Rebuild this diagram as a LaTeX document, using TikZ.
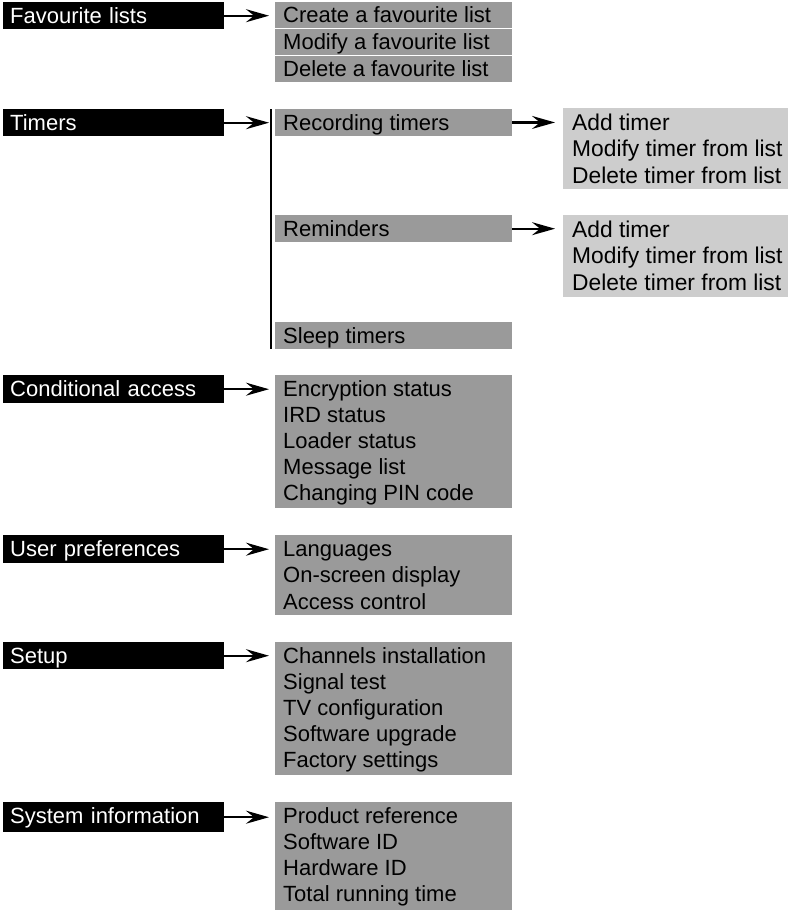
\documentclass[tikz,border=0pt]{standalone}
\usepackage{fontspec}
\setmainfont{Liberation Sans}
\usetikzlibrary{arrows.meta,calc}
\definecolor{midgray}{RGB}{154,154,154}
\definecolor{palegray}{RGB}{205,205,205}
\begin{document}
\begin{tikzpicture}[x=1pt,y=-1pt,
  lbl/.style={font=\fontsize{22}{26}\selectfont, inner sep=0pt, anchor=base west},
  plbl/.style={lbl, font=\fontsize{22.8}{26}\selectfont},
  head/.style={fill=black, text=white, anchor=north west, inner xsep=7pt, inner ysep=0pt,
    text width=207pt, align=left, text height=21pt, text depth=6pt,
    font=\fontsize{22}{26}\selectfont},
  gbox/.style={fill=midgray, anchor=north west, inner sep=0pt, minimum width=237pt},
  pbox/.style={fill=palegray, anchor=north west, inner sep=0pt, minimum width=225pt},
  arr/.style={-{Stealth[length=23pt,width=13pt,inset=8pt]}, line width=2.2pt},
  vline/.style={line width=2.5pt}]
\useasboundingbox (0,0) rectangle (799,910);

% ---------- Favourite lists
\node[head] (fav) at (3,2) {Favourite lists};
\node[gbox, minimum height=25.5pt] (favg1) at (275,2) {};
\node[gbox, minimum height=26pt] (favg2) at (275,28.5) {};
\node[gbox, minimum height=26.5pt] (favg3) at (275,55.5) {};
\node[lbl] (fav1) at (283,23) {Create a favourite list};
\node[lbl] (fav2) at (283,49.5) {Modify a favourite list};
\node[lbl] (fav3) at (283,76) {Delete a favourite list};
\draw[arr] (fav.east) -- ($(fav.east -| favg1.west)+(-6,0)$);

% ---------- Timers
\node[head] (tim) at (3,109) {Timers};
\coordinate (vtop) at (271,109);
\coordinate (vbot) at (271,349);
\draw[vline] (vtop) -- (vbot);
\draw[arr] (tim.east) -- ($(tim.east -| vtop)+(-2,0)$);
\node[gbox, minimum height=26.5pt] (rec) at (275,109) {};
\node[lbl] (rect) at (283,130) {Recording timers};
\node[gbox, minimum height=27pt] (rem) at (275,215) {};
\node[lbl] (remt) at (283,236) {Reminders};
\node[gbox, minimum height=26.5pt] (slp) at (275,322) {};
\node[lbl] (slpt) at (283,343) {Sleep timers};

\node[pbox, minimum height=81pt] (lb1) at (563,108) {};
\foreach \t [count=\i from 0] in {Add timer, Modify timer from list, Delete timer from list}
  \node[plbl] (lbo\i) at (572,{130+26.5*\i}) {\t};
\node[pbox, minimum height=82pt] (lb2) at (563,215) {};
\foreach \t [count=\i from 0] in {Add timer, Modify timer from list, Delete timer from list}
  \node[plbl] (lbt\i) at (572,{237+26.5*\i}) {\t};
\draw[arr] (rec.east) -- ($(rec.east -| lb1.west)+(-8,0)$);
\draw[arr] (rem.east) -- ($(rem.east -| lb2.west)+(-8,0)$);

% ---------- Conditional access
\node[head, text depth=7pt] (ca) at (3,375) {Conditional access};
\node[gbox, minimum height=133pt] (cag) at (275,375) {};
\foreach \t [count=\i from 0] in {Encryption status, IRD status, Loader status, Message list, Changing PIN code}
  \node[lbl] (ca\i) at (283,{396+26*\i}) {\t};
\draw[arr] (ca.east) -- ($(ca.east -| cag.west)+(-6,0)$);

% ---------- User preferences
\node[head, text depth=7pt] (up) at (3,535) {User preferences};
\node[gbox, minimum height=80pt] (upg) at (275,535) {};
\foreach \t [count=\i from 0] in {Languages, On-screen display, Access control}
  \node[lbl] (up\i) at (283,{556+26.5*\i}) {\t};
\draw[arr] (up.east) -- ($(up.east -| upg.west)+(-6,0)$);

% ---------- Setup
\node[head] (set) at (3,642) {Setup};
\node[gbox, minimum height=133pt] (setg) at (275,642) {};
\foreach \t [count=\i from 0] in {Channels installation, Signal test, TV configuration, Software upgrade, Factory settings}
  \node[lbl] (set\i) at (283,{663+26*\i}) {\t};
\draw[arr] (set.east) -- ($(set.east -| setg.west)+(-6,0)$);

% ---------- System information
\node[head, text depth=9pt] (si) at (3,802) {System information};
\node[gbox, minimum height=108pt] (sig) at (275,802) {};
\foreach \t [count=\i from 0] in {Product reference, Software ID, Hardware ID, Total running time}
  \node[lbl] (si\i) at (283,{823+26*\i}) {\t};
\draw[arr] (si.east) -- ($(si.east -| sig.west)+(-6,0)$);
\end{tikzpicture}
\end{document}
